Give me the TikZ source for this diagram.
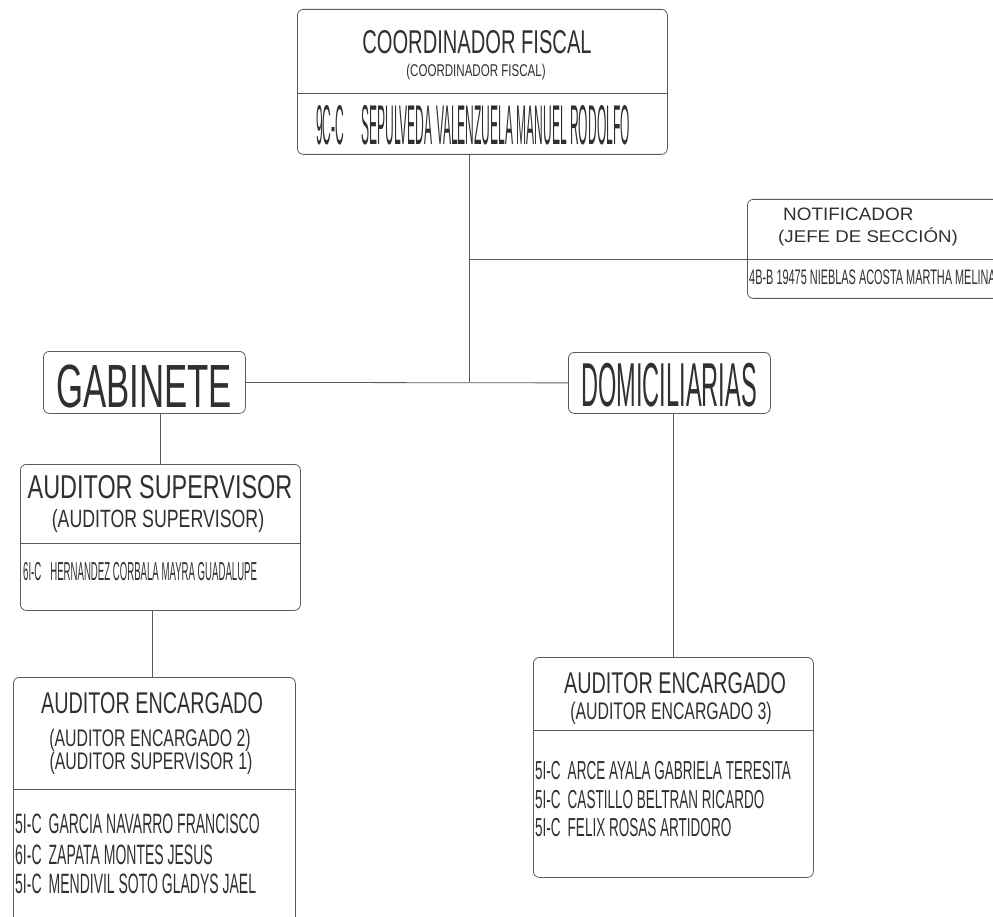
\documentclass[tikz,border=0pt]{standalone}
\usepackage{fontspec}
\setmainfont{Liberation Sans}
\usetikzlibrary{calc}
\definecolor{linegray}{HTML}{5A5A5A}
\definecolor{inkgray}{HTML}{303030}
\newcommand{\cfont}[2]{\fontsize{#1}{#1}\selectfont\addfontfeature{FakeStretch=#2}}

\begin{document}
\begin{tikzpicture}[x=1pt, y=-1pt,
  box/.style={draw=linegray, line width=0.8pt, rounded corners=6pt, inner sep=0pt, anchor=north west},
  wire/.style={draw=linegray, line width=0.8pt},
  lbl/.style={inner sep=0pt, text=inkgray}]
%\draw [help lines] (0,0) grid (993,917);
\clip (0,0) rectangle (993,917);

% Boxes
\node[box, minimum width=370, minimum height=145] (coord) at (297,9)   {};
\node[box, minimum width=263, minimum height=99]  (notif) at (747,199) {};
\node[box, minimum width=202, minimum height=62]  (gab)   at (43,351)  {};
\node[box, minimum width=202, minimum height=61]  (dom)   at (568,352) {};
\node[box, minimum width=280, minimum height=146] (sup)   at (20,464)  {};
\node[box, minimum width=282, minimum height=253] (encl)  at (13,677)  {};
\node[box, minimum width=280, minimum height=220] (encr)  at (533,657) {};

% Dividers
\draw[wire] (coord.west |- 0,93)  -- (coord.east |- 0,93);
\draw[wire] (notif.west |- 0,259) -- (notif.east |- 0,259);
\draw[wire] (sup.west |- 0,543)   -- (sup.east |- 0,543);
\draw[wire] (encl.west |- 0,789)  -- (encl.east |- 0,789);
\draw[wire] (encr.west |- 0,730)  -- (encr.east |- 0,730);

% Texts
\node[lbl, anchor=base] (coordT) at (477,54) {\cfont{33}{0.61}COORDINADOR FISCAL};
\node[lbl, anchor=base] (coordS) at (476,77) {\cfont{17}{0.68}(COORDINADOR FISCAL)};
\node[lbl, anchor=base west] (coordN) at (316,145) {\cfont{56}{0.215}9C-C\hspace{17pt}SEPULVEDA VALENZUELA MANUEL RODOLFO};

\node[lbl, anchor=base west] (notifT) at (783,221) {\cfont{18}{1.05}NOTIFICADOR};
\node[lbl, anchor=base west] (notifS) at (778,243) {\cfont{17}{1.1}(JEFE DE SECCIÓN)};
\node[lbl, anchor=base west] (notifN) at (749,284) {\cfont{21}{0.52}4B-B 19475 NIEBLAS ACOSTA MARTHA MELINA};

\node[lbl, anchor=base] (gabT) at (144,407) {\cfont{61}{0.57}GABINETE};
\node[lbl, anchor=base] (domT) at (669,406) {\cfont{62}{0.38}DOMICILIARIAS};

\node[lbl, anchor=base] (supT) at (160,498) {\cfont{33}{0.71}AUDITOR SUPERVISOR};
\node[lbl, anchor=base] (supS) at (158,527) {\cfont{25}{0.71}(AUDITOR SUPERVISOR)};
\node[lbl, anchor=base west] (supN) at (23,580) {\cfont{26}{0.37}6I-C\hspace{9pt}HERNANDEZ CORBALA MAYRA GUADALUPE};

\node[lbl, anchor=base] (enclT)  at (152,713) {\cfont{30}{0.66}AUDITOR ENCARGADO};
\node[lbl, anchor=base] (enclS1) at (150,746) {\cfont{24}{0.66}(AUDITOR ENCARGADO 2)};
\node[lbl, anchor=base] (enclS2) at (151,769) {\cfont{24}{0.66}(AUDITOR SUPERVISOR 1)};
\node[lbl, anchor=base west] (enclN1) at (15,833) {\cfont{28}{0.5}5I-C\hspace{7pt}GARCIA NAVARRO FRANCISCO};
\node[lbl, anchor=base west] (enclN2) at (15,864) {\cfont{28}{0.5}6I-C\hspace{7pt}ZAPATA MONTES JESUS};
\node[lbl, anchor=base west] (enclN3) at (15,893) {\cfont{28}{0.5}5I-C\hspace{7pt}MENDIVIL SOTO GLADYS JAEL};

\node[lbl, anchor=base] (encrT) at (675,693) {\cfont{30}{0.66}AUDITOR ENCARGADO};
\node[lbl, anchor=base] (encrS) at (671,719) {\cfont{24}{0.66}(AUDITOR ENCARGADO 3)};
\node[lbl, anchor=base west] (encrN1) at (535,779) {\cfont{26}{0.52}5I-C\hspace{7pt}ARCE AYALA GABRIELA TERESITA};
\node[lbl, anchor=base west] (encrN2) at (535,808) {\cfont{26}{0.52}5I-C\hspace{7pt}CASTILLO BELTRAN RICARDO};
\node[lbl, anchor=base west] (encrN3) at (535,836) {\cfont{26}{0.52}5I-C\hspace{7pt}FELIX ROSAS ARTIDORO};

% Edges
\coordinate (hub) at (469,382);
\coordinate (tap) at (469,259);
\coordinate (gabdrop) at ($(gab.south)+(16,0)$);
\coordinate (supdrop) at ($(sup.south)+(-8,0)$);
\coordinate (domdrop) at ($(dom.south)+(4,0)$);
\draw[wire] (coord.south -| hub) -- (hub);
\draw[wire] (tap) -- (tap -| notif.west);
\draw[wire] (gab.east) -- (dom.west);
\draw[wire] (gabdrop) -- (gabdrop |- sup.north);
\draw[wire] (supdrop) -- (supdrop |- encl.north);
\draw[wire] (domdrop) -- (domdrop |- encr.north);
\end{tikzpicture}
\end{document}
